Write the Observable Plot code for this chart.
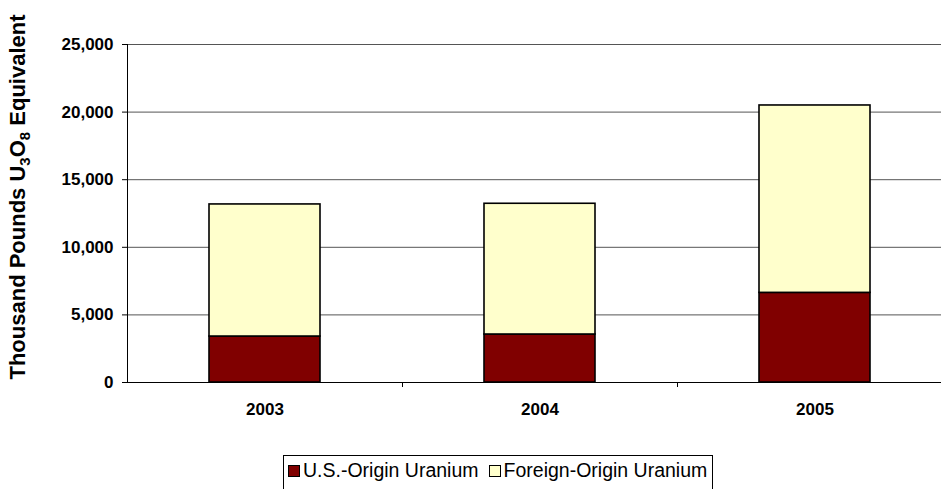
<!DOCTYPE html>
<html><head><meta charset="utf-8">
<script src="https://cdn.jsdelivr.net/npm/d3@7"></script>
<script src="https://cdn.jsdelivr.net/npm/@observablehq/plot@0.6"></script>
<style>
body{margin:0;background:#fff;overflow:hidden;font-family:Arial,"Liberation Sans",sans-serif}
#wrap{position:relative;width:941px;height:489px;overflow:hidden}
#legend{position:absolute;left:283px;top:455px;border:1px solid #000;padding:3px 5px 10px 4px;display:flex;align-items:center;font-size:19.5px;color:#000;white-space:nowrap;background:#fff}
#legend .item{display:flex;align-items:center;margin-right:10px}
#legend .item:last-child{margin-right:0}
#legend .sw{width:10px;height:10px;border:1px solid #000;margin-right:3px}
</style></head><body><div id="wrap"></div>
<script>
const years = ["2003", "2004", "2005"];
const usOrigin = [3400, 3550, 6630];
const foreignOrigin = [9770, 9670, 13860];
const seriesNames = ["U.S.-Origin Uranium", "Foreign-Origin Uranium"];
const seriesColors = ["#800000", "#FFFFCC"];
const yTicks = [0, 5000, 10000, 15000, 20000, 25000];

const rows = [];
years.forEach((yr, i) => {
  const vals = [usOrigin[i], foreignOrigin[i]];
  let acc = 0;
  vals.forEach((v, s) => {
    rows.push({i, year: yr, series: seriesNames[s], y1: acc, y2: acc + v});
    acc += v;
  });
});

const chart = Plot.plot({
  width: 941,
  height: 448,
  marginLeft: 127,
  marginRight: -11,
  marginTop: 44,
  marginBottom: 66,
  style: {fontFamily: "Arial, 'Liberation Sans', sans-serif", fontSize: "17px", fontWeight: "bold", background: "#fff", color: "#000"},
  x: {type: "linear", domain: [0, years.length], axis: null},
  y: {domain: [0, 25000], axis: null},
  color: {domain: seriesNames, range: seriesColors},
  marks: [
    Plot.gridY(yTicks.filter(d => d > 0), {stroke: "#555", strokeOpacity: 1, strokeWidth: 1}),
    Plot.rectY(rows, {x1: "i", x2: d => d.i + 1, y1: "y1", y2: "y2", fill: "series", stroke: "#000", strokeWidth: 1.6, insetLeft: 82, insetRight: 82}),
    Plot.ruleY([0], {stroke: "#000", strokeWidth: 1}),
    Plot.ruleX([0], {y1: 0, y2: 25000, stroke: "#000", strokeWidth: 1}),
    Plot.axisY({ticks: yTicks, tickSize: 5, tickPadding: 9, tickFormat: d3.format(","), label: null}),
    Plot.axisX({ticks: d3.range(1, years.length + 1), tickSize: 5, tickFormat: () => "", label: null}),
    Plot.axisX({ticks: years.map((_, i) => i + 0.5), tickSize: 0, tickPadding: 20, tickFormat: d => years[Math.floor(d)], label: null})
  ]
});

const wrap = document.getElementById("wrap");
wrap.appendChild(chart);

// rotated y-axis label with subscripts
const svg = d3.select(chart);
const lbl = svg.append("text")
  .attr("transform", "translate(25,197) rotate(-90)")
  .attr("text-anchor", "middle")
  .attr("font-weight", "bold")
  .attr("font-size", 22)
  .attr("fill", "#000");
lbl.append("tspan").text("Thousand Pounds U");
lbl.append("tspan").attr("font-size", 15).attr("dy", 5).text("3");
lbl.append("tspan").attr("dy", -5).text("O");
lbl.append("tspan").attr("font-size", 15).attr("dy", 5).text("8");
lbl.append("tspan").attr("dy", -5).text(" Equivalent");

// legend
const leg = document.createElement("div");
leg.id = "legend";
seriesNames.forEach((name, k) => {
  const it = document.createElement("div");
  it.className = "item";
  const sw = document.createElement("div");
  sw.className = "sw";
  sw.style.background = seriesColors[k];
  const tx = document.createElement("span");
  tx.textContent = name;
  it.appendChild(sw);
  it.appendChild(tx);
  leg.appendChild(it);
});
wrap.appendChild(leg);
</script></body></html>
